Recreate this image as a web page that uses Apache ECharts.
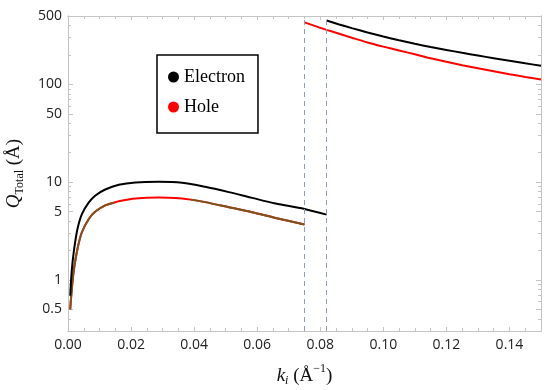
<!DOCTYPE html>
<html>
<head>
<meta charset="utf-8">
<script src="https://cdn.jsdelivr.net/npm/echarts@6/dist/echarts.min.js"></script>
<style>html,body{margin:0;padding:0;background:#fff}#c{width:550px;height:390px}</style>
</head>
<body>
<div id="c"></div>
<script>
// ---- data ----
const kLowElectron = [0.0007,0.0012,0.0018,0.0029,0.0044,0.0066,0.0087,0.0118,0.0161,0.0214,0.0288,0.0362,0.0435,0.051,0.0584,0.0658,0.075,0.082];
const qLowElectron = [0.69,1.25,1.9,3.2,4.7,6.2,7.3,8.4,9.4,9.93,10.07,9.84,8.95,7.9,6.9,6.05,5.32,4.65];
const kLowHole = [0.0007,0.0012,0.0018,0.0029,0.0044,0.0066,0.0087,0.0118,0.0145,0.0161,0.0214,0.0288,0.0362,0.039,0.0435,0.051,0.0584,0.0658,0.075];
const qLowHole = [0.5,0.8,1.22,2.0,3.07,4.2,5.0,5.77,6.15,6.38,6.8,6.97,6.8,6.62,6.24,5.54,4.92,4.3,3.68];
const kHighElectron = [0.082,0.086,0.09,0.095,0.1,0.105,0.11,0.115,0.12,0.125,0.13,0.135,0.14,0.145,0.15];
const qHighElectron = [450,410,376,339,308,282,260,241,225,210,197,185,174,164,155];
const kHighHole = [0.075,0.08,0.085,0.09,0.095,0.1,0.105,0.11,0.115,0.12,0.125,0.13,0.135,0.14,0.145,0.15];
const qHighHole = [430,378,337,300,268,243,222,203,185,170,157,146,136,127,119,112];
const thresholds = [0.075, 0.082];
const xTickLabels = [0,0.02,0.04,0.06,0.08,0.10,0.12,0.14];
const xMinorTicks = [0.005,0.01,0.015,0.025,0.03,0.035,0.045,0.05,0.055,0.065,0.07,0.075,0.085,0.09,0.095,0.105,0.11,0.115,0.125,0.13,0.135,0.145,0.15];
const yTickLabels = [0.5,1,5,10,50,100,500];
const yMinorTicks = [0.3,0.4,0.6,0.7,0.8,0.9,2,3,4,6,7,8,9,20,30,40,60,70,80,90,200,300,400];
const seriesNames = ['Electron','Hole'];

const pair = (ks, qs) => ks.map((k, i) => [k, qs[i]]);
// brownish overlay on the hole curve, except around its peak
const holeOverlay = kLowHole.map((k, i) => (k > 0.0146 && k < 0.0389) ? [k, null] : [k, qLowHole[i]]);

const axisGray = '#c4c4c4';
const labelFont = {fontFamily: 'Open Sans', fontSize: 14, color: '#222'};
const serif = 'Liberation Serif';

function xAxisDef(pos, show, vals, len) {
  return {
    type: 'value', position: pos, min: 0, max: 0.15,
    axisLine: {show: true, onZero: false, lineStyle: {color: axisGray, width: 1}},
    axisTick: {show: true, inside: true, length: len, customValues: vals, lineStyle: {color: axisGray}},
    axisLabel: show ? Object.assign({show: true, margin: 7, customValues: xTickLabels, formatter: v => v.toFixed(2)}, labelFont) : {show: false},
    splitLine: {show: false}
  };
}
function yAxisDef(pos, show, vals, len) {
  return {
    type: 'log', logBase: 10, position: pos, min: 0.3, max: 500,
    axisLine: {show: true, onZero: false, lineStyle: {color: axisGray, width: 1}},
    axisTick: {show: true, inside: true, length: len, customValues: vals, lineStyle: {color: axisGray}},
    axisLabel: show ? Object.assign({show: true, margin: 6, customValues: yTickLabels, formatter: v => String(+v.toPrecision(6))}, labelFont) : {show: false},
    splitLine: {show: false}
  };
}

const xMain = xAxisDef('bottom', true, xTickLabels, 4);
xMain.name = '{k|k}{sub|i}{t| (Å}{sup|−1}{t|)}';
xMain.nameLocation = 'middle';
xMain.nameGap = 32;
xMain.nameTextStyle = {
  rich: {
    k: {fontFamily: serif, fontStyle: 'italic', fontSize: 19, color: '#111', verticalAlign: 'middle', lineHeight: 26},
    sub: {fontFamily: serif, fontStyle: 'italic', fontSize: 12, color: '#111', verticalAlign: 'bottom', lineHeight: 26, padding: [0, 0, 2, 0]},
    t: {fontFamily: serif, fontSize: 19, color: '#111', verticalAlign: 'middle', lineHeight: 26},
    sup: {fontFamily: serif, fontSize: 12, color: '#111', verticalAlign: 'top', lineHeight: 26}
  }
};

const yMain = yAxisDef('left', true, yTickLabels, 5);
yMain.name = '{q|Q}{sub|Total}{t| (Å)}';
yMain.nameLocation = 'middle';
yMain.nameGap = 37;
yMain.nameRotate = 90;
yMain.nameTextStyle = {
  rich: {
    q: {fontFamily: serif, fontStyle: 'italic', fontSize: 19, color: '#111', verticalAlign: 'middle', lineHeight: 26},
    sub: {fontFamily: serif, fontSize: 12, color: '#111', verticalAlign: 'bottom', lineHeight: 26, padding: [0, 0, 1, 0]},
    t: {fontFamily: serif, fontSize: 19, color: '#111', verticalAlign: 'middle', lineHeight: 26}
  }
};

const option = {
  animation: false,
  backgroundColor: '#fff',
  grid: {left: 68, right: 9, top: 16, bottom: 59, containLabel: false, outerBoundsMode: 'none'},
  xAxis: [
    xMain,
    xAxisDef('bottom', false, xMinorTicks, 3),
    xAxisDef('top', false, xTickLabels, 4),
    xAxisDef('top', false, xMinorTicks, 3)
  ],
  yAxis: [
    yMain,
    yAxisDef('left', false, yMinorTicks, 3),
    yAxisDef('right', false, yTickLabels, 5),
    yAxisDef('right', false, yMinorTicks, 3)
  ],
  legend: {
    left: 157, top: 55, orient: 'vertical',
    data: seriesNames,
    icon: 'circle', itemWidth: 11, itemHeight: 11, itemGap: 12,
    padding: [13, 13, 17, 11],
    borderColor: '#000', borderWidth: 1.5, backgroundColor: '#fff',
    textStyle: {fontFamily: serif, fontSize: 18, color: '#000'}
  },
  series: [
    {
      name: seriesNames[1], type: 'line', data: pair(kLowHole, qLowHole),
      showSymbol: false, smooth: 0.3,
      lineStyle: {color: '#ff0000', width: 2}, itemStyle: {color: '#ff0000'},
      markLine: {
        silent: true, symbol: 'none', label: {show: false}, precision: 4,
        lineStyle: {type: [5, 4], color: '#8d9ebd', width: 1},
        data: thresholds.map(t => ({xAxis: t}))
      }
    },
    {
      name: 'overlay', type: 'line', data: holeOverlay,
      showSymbol: false, smooth: 0.3, connectNulls: false,
      lineStyle: {color: '#7a5520', width: 2}, itemStyle: {color: '#7a5520'}
    },
    {
      name: seriesNames[1], type: 'line', data: pair(kHighHole, qHighHole),
      showSymbol: false, smooth: 0.3,
      lineStyle: {color: '#ff0000', width: 2}, itemStyle: {color: '#ff0000'}
    },
    {
      name: seriesNames[0], type: 'line', data: pair(kLowElectron, qLowElectron),
      showSymbol: false, smooth: 0.3,
      lineStyle: {color: '#000', width: 2}, itemStyle: {color: '#000'}
    },
    {
      name: seriesNames[0], type: 'line', data: pair(kHighElectron, qHighElectron),
      showSymbol: false, smooth: 0.3,
      lineStyle: {color: '#000', width: 2}, itemStyle: {color: '#000'}
    }
  ]
};

const chart = echarts.init(document.getElementById('c'), null, {renderer: 'canvas'});
chart.setOption(option);
</script>
</body>
</html>
